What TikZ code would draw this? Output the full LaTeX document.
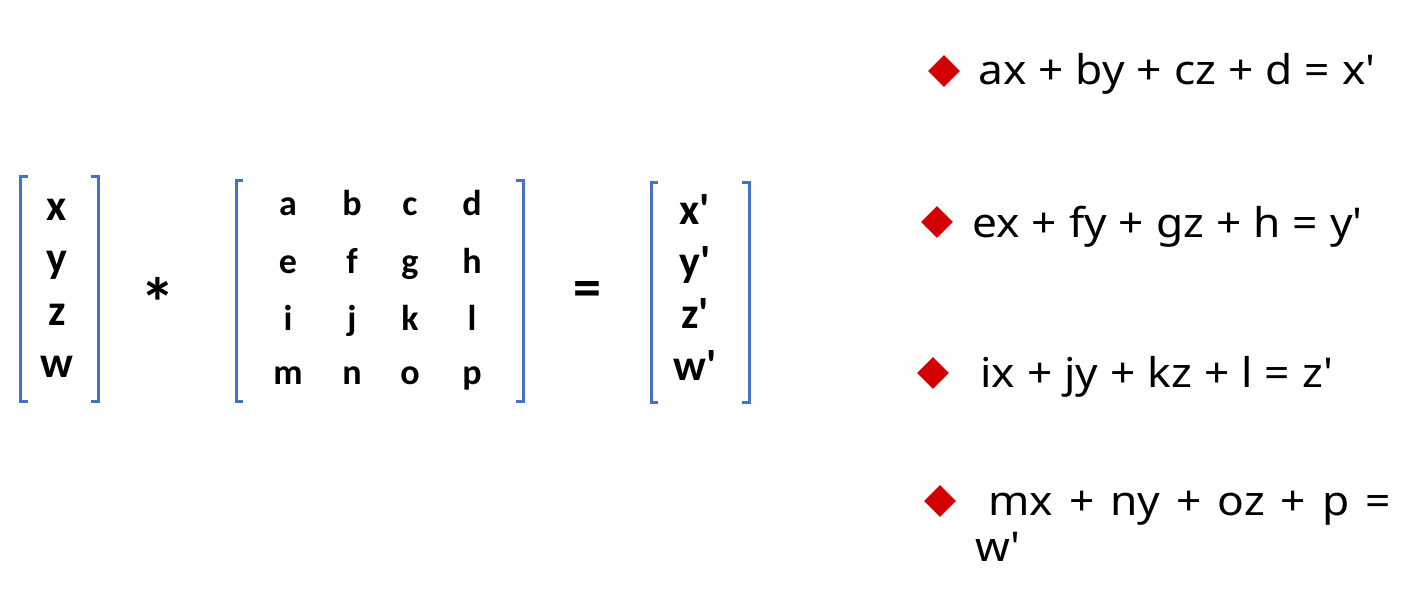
\documentclass[tikz,border=0pt]{standalone}
\usepackage{fontspec}
\setmainfont{Noto Sans}
\newfontfamily\calibri{Carlito}
\newfontfamily\eqfont[FakeStretch=1.08]{Noto Sans}
\usetikzlibrary{shapes.geometric}

\begin{document}
\begin{tikzpicture}[x=1pt,y=-1pt]
  % Couleurs
  \definecolor{brkblue}{RGB}{68,114,196}   % Bleu des crochets
  \definecolor{bulletred}{RGB}{210,0,0}    % Rouge des puces
  \tikzset{
    vec/.style={anchor=base,inner sep=0pt,font=\calibri\bfseries\fontsize{44}{44}\selectfont},
    mat/.style={anchor=base,inner sep=0pt,font=\calibri\bfseries\fontsize{36}{36}\selectfont},
    eqn/.style={anchor=base west,inner sep=0pt,font=\eqfont\fontsize{41}{48}\selectfont},
    puce/.style={diamond,fill=bulletred,inner sep=0pt,minimum width=32pt,minimum height=32pt},
    brk/.style={draw=brkblue,line width=3pt},
  }
  \useasboundingbox (0,0) rectangle (1402,591);

  % Vecteur de gauche
  \draw[brk] (28,176) -- (20,176) -- (20,401) -- (28,401);
  \draw[brk] (91,176) -- (98,176) -- (98,401) -- (91,401);
  \node[vec] (x) at (57,220) {x};
  \node[vec] (y) at (57,272) {y};
  \node[vec] (z) at (57,325) {z};
  \node[vec] (w) at (57,377) {w};

  % Produit
  \node[anchor=base,inner sep=0pt,font=\calibri\bfseries\fontsize{70}{70}\selectfont] (star) at (158,327) {*};

  % Matrice 4x4
  \draw[brk] (243,180) -- (236,180) -- (236,401) -- (243,401);
  \draw[brk] (516,180) -- (523,180) -- (523,401) -- (516,401);
  \node[mat] (a) at (288,215) {a};
  \node[mat] (b) at (352,215) {b};
  \node[mat] (c) at (410,215) {c};
  \node[mat] (d) at (472,215) {d};
  \node[mat] (e) at (288,273) {e};
  \node[mat] (f) at (352,273) {f};
  \node[mat] (g) at (410,273) {g};
  \node[mat] (h) at (472,273) {h};
  \node[mat] (i) at (288,330) {i};
  \node[mat] (j) at (352,330) {j};
  \node[mat] (k) at (410,330) {k};
  \node[mat] (l) at (472,330) {l};
  \node[mat] (m) at (288,384) {m};
  \node[mat] (n) at (352,384) {n};
  \node[mat] (o) at (410,384) {o};
  \node[mat] (p) at (472,384) {p};

  % Égalité
  \node[anchor=base,inner sep=0pt,font=\calibri\bfseries\fontsize{56}{56}\selectfont] (eq) at (587,306) {=};

  % Vecteur résultat
  \draw[brk] (658,182) -- (651,182) -- (651,402) -- (658,402);
  \draw[brk] (742,182) -- (749,182) -- (749,402) -- (742,402);
  \node[vec] (xp) at (695,224) {x\textquotesingle};
  \node[vec] (yp) at (695,276) {y\textquotesingle};
  \node[vec] (zp) at (695,328) {z\textquotesingle};
  \node[vec] (wp) at (695,380) {w\textquotesingle};

  % Puces
  \node[puce] (p1) at (944,71) {};
  \node[puce] (p2) at (937,222) {};
  \node[puce] (p3) at (933,373) {};
  \node[puce] (p4) at (940,501) {};

  % Équations
  \node[eqn] (e1) at (978,85) {\spaceskip=12pt ax + by + cz + d = x\textquotesingle};
  \node[eqn] (e2) at (972,237) {\spaceskip=12pt ex + fy + gz + h = y\textquotesingle};
  \node[eqn] (e3) at (980,387) {\spaceskip=12pt ix + jy + kz + l = z\textquotesingle};
  \node[eqn] (e4) at (988,515) {\spaceskip=16pt mx + ny + oz + p =};
  \node[eqn] (e5) at (975,561) {w\textquotesingle};
\end{tikzpicture}
\end{document}
